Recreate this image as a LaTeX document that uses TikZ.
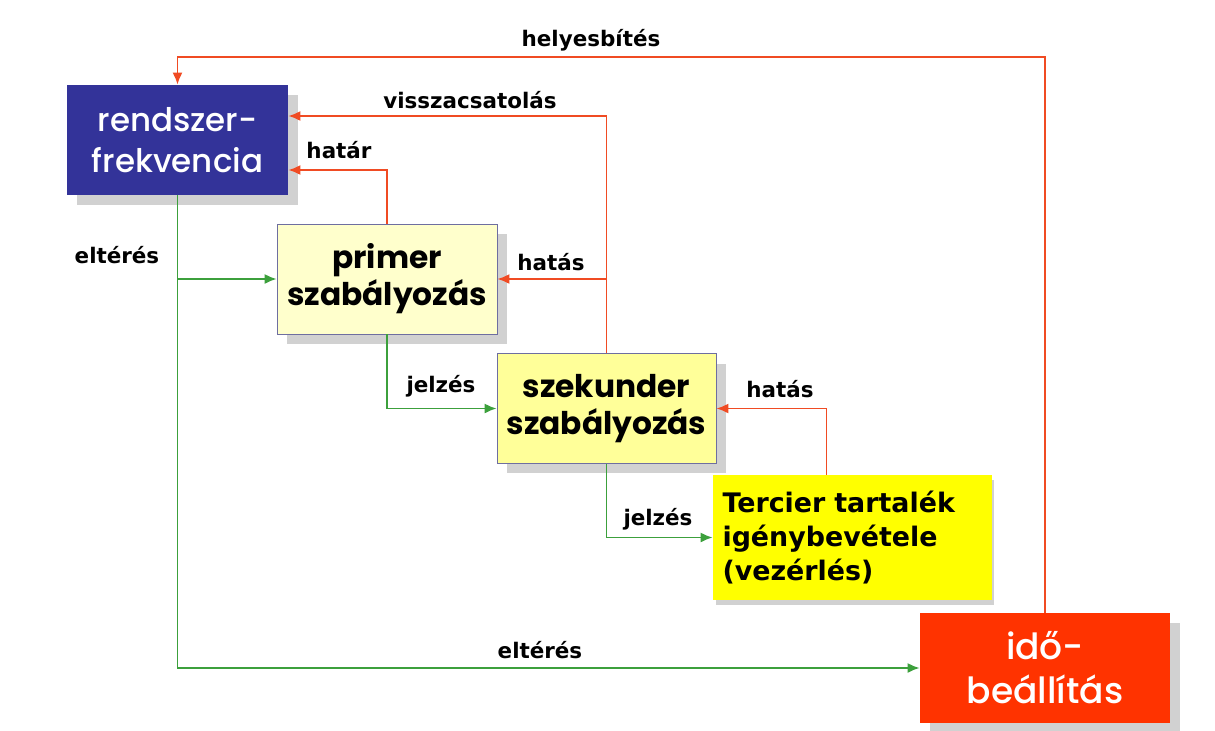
\documentclass[tikz,border=0pt]{standalone}
\usepackage{fontspec}
\setmainfont{DejaVu Sans}
\newfontfamily\boxfont{Poppins}
\newfontfamily\boxmed{Poppins Medium}
\usetikzlibrary{arrows.meta, positioning, calc, shadows}
\definecolor{freqblue}{RGB}{51,51,153}
\definecolor{primyellow}{RGB}{255,255,204}
\definecolor{szekyellow}{RGB}{255,255,153}
\definecolor{tercyellow}{RGB}{255,255,0}
\definecolor{idored}{RGB}{255,51,0}
\definecolor{arrred}{RGB}{240,75,35}
\definecolor{arrgreen}{RGB}{60,160,60}
\definecolor{boxedge}{RGB}{110,110,160}
\tikzset{
    shadowed/.style={drop shadow={shadow xshift=0.2cm, shadow yshift=-0.2cm, fill=black!18, opacity=1}},
    freqbox/.style={rectangle, fill=freqblue, text=white, shadowed, minimum width=4.42cm, minimum height=2.2cm, align=center, font=\boxmed\fontsize{18.5}{23}\selectfont},
    regbox/.style={rectangle, draw=boxedge, thin, shadowed, minimum width=4.4cm, minimum height=2.2cm, align=center, font=\boxfont\bfseries\fontsize{17.8}{21}\selectfont},
    tercbox/.style={rectangle, fill=tercyellow, drop shadow={shadow xshift=0.05cm, shadow yshift=-0.1cm, fill=black!18, opacity=1}, minimum width=5.58cm, minimum height=2.5cm, align=left, text width=5.2cm, font=\bfseries\fontsize{15.3}{19.5}\selectfont},
    timebox/.style={rectangle, fill=idored, text=white, shadowed, minimum width=5cm, minimum height=2.2cm, align=center, font=\boxmed\fontsize{20.5}{25}\selectfont},
    redarr/.style={-{Latex[length=2.4mm, width=2mm]}, line width=1.1pt, arrred},
    greenarr/.style={-{Latex[length=2.4mm, width=2mm]}, line width=1.1pt, arrgreen},
    lbl/.style={font=\bfseries\fontsize{12.2}{14}\selectfont},
}

\begin{document}
\begin{tikzpicture}[x=0.02cm, y=-0.02cm]
    \useasboundingbox[fill=white] (0,0) rectangle (1215,731);
    % boxes
    \node[freqbox] (freq) at (177.5,140) {rendszer-\\frekvencia};
    \node[regbox, fill=primyellow] (prim) at (387,279) {primer\\szabályozás};
    \node[regbox, fill=szekyellow, minimum width=4.38cm] (szek) at (606.5,408.5) {szekunder\\szabályozás};
    \node[tercbox] (terc) at (852.5,537.5) {Tercier tartalék\\igénybevétele\\(vezérlés)};
    \node[timebox] (ido) at (1045,668) {idő-\\beállítás};
    \coordinate (tercup) at ($(terc.north)+(-26,0)$);
    % red connectors
    \draw[redarr] (ido.north) |- ($(freq.north)+(0,-28)$) -- (freq.north);
    \draw[redarr] (szek.north) |- ($(freq.east)+(0,-24)$);
    \draw[redarr] (prim.north) |- ($(freq.east)+(0,30)$);
    \draw[redarr] (szek.north |- prim.east) -- (prim.east);
    \draw[redarr] (tercup) |- (szek.east);
    % green connectors
    \draw[greenarr] (freq.south) |- (ido.west);
    \draw[greenarr] (freq.south |- prim.west) -- (prim.west);
    \draw[greenarr] (prim.south) |- (szek.west);
    \draw[greenarr] (szek.south) |- (terc.west);
    % labels
    \node[lbl] (lhely) at (591,40) {helyesbítés};
    \node[lbl] (lvissza) at (470,100) {visszacsatolás};
    \node[lbl] (lhatar) at (339,150) {határ};
    \node[lbl] (lhatas1) at (551,262) {hatás};
    \node[lbl] (lhatas2) at (780,389) {hatás};
    \node[lbl] (lelt1) at (117,255) {eltérés};
    \node[lbl] (ljel1) at (441,386) {jelzés};
    \node[lbl] (ljel2) at (658,519) {jelzés};
    \node[lbl] (lelt2) at (540,650) {eltérés};
\end{tikzpicture}
\end{document}
